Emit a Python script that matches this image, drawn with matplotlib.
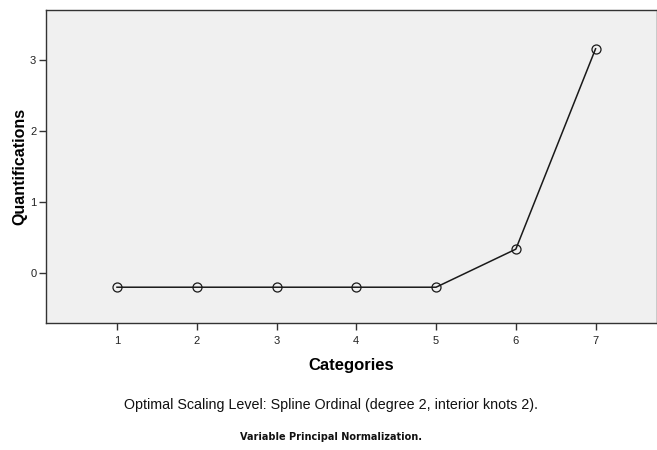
import matplotlib.pyplot as plt

plt.rcParams['font.family'] = ['Liberation Sans', 'DejaVu Sans']

# category quantifications
categories = [1, 2, 3, 4, 5, 6, 7]
quantifications = [-0.197, -0.197, -0.197, -0.197, -0.197, 0.338, 3.155]
yticks = [0, 1, 2, 3]

fig = plt.figure(figsize=(6.57, 4.5), dpi=100)
# axes box in pixel terms: left 46, right 657, top 10, bottom 323
ax = fig.add_axes([46 / 657, 1 - 323 / 450, 611 / 657, 313 / 450])
ax.set_facecolor('#f0f0f0')

ax.plot(categories, quantifications, color='#1a1a1a', linewidth=1.1,
        marker='o', markersize=6.5, markerfacecolor='none',
        markeredgecolor='#1a1a1a', markeredgewidth=0.9)

ax.set_xlim(0.11, 7.77)
ax.set_ylim(-0.70, 3.70)
ax.set_xticks(categories)
ax.set_yticks(yticks)
ax.tick_params(axis='both', direction='out', length=5, width=1,
               color='#333333', labelsize=8, labelcolor='#222222', pad=2)
ax.tick_params(axis='x', pad=4)

for side in ['left', 'bottom', 'top', 'right']:
    ax.spines[side].set_color('#333333')
    ax.spines[side].set_linewidth(1.0)

ax.set_ylabel('Quantifications', fontsize=11.5, fontweight='bold', labelpad=2)
ax.set_xlabel('Categories', fontsize=12, fontweight='bold', labelpad=9)

fig.text(331 / 657, 1 - 405 / 450,
         'Optimal Scaling Level: Spline Ordinal (degree 2, interior knots 2).',
         ha='center', va='center', fontsize=10.3, color='#111111')
fig.text(331 / 657, 1 - 437 / 450, 'Variable Principal Normalization.',
         ha='center', va='center', fontsize=7, fontweight='bold',
         family='DejaVu Sans', color='#111111')

fig.savefig('out.png', dpi=100)
